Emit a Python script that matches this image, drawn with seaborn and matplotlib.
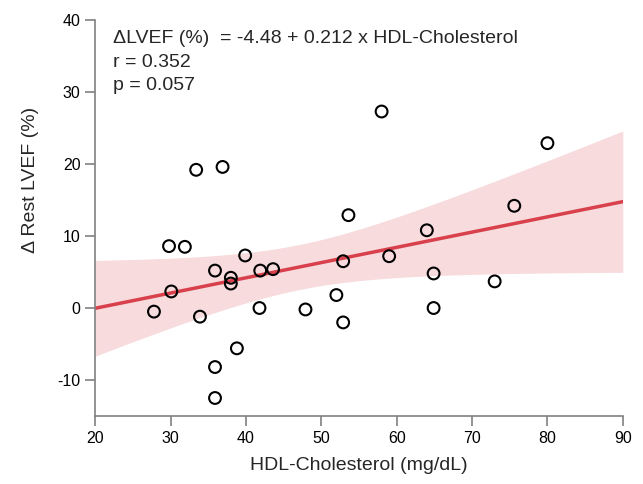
import matplotlib
matplotlib.use("Agg")
from matplotlib import pyplot as plt
import numpy as np
import pandas as pd
import seaborn as sns

# values
hdl = [33.4, 36.9, 29.8, 31.9, 39.9, 35.9, 38.0, 38.0, 41.9, 43.6,
       30.1, 27.8, 33.9, 41.8, 38.8, 35.9, 35.9, 58.0, 53.6, 52.9,
       59.0, 64.0, 64.9, 64.9, 52.0, 52.9, 47.9, 80.0, 75.6, 73.0]
delta_lvef = [19.2, 19.6, 8.6, 8.5, 7.3, 5.2, 4.2, 3.4, 5.2, 5.4,
              2.3, -0.5, -1.2, 0.0, -5.6, -8.2, -12.5, 27.3, 12.9, 6.5,
              7.2, 10.8, 4.8, 0.0, 1.8, -2.0, -0.2, 22.9, 14.2, 3.7]
x_ticks = [20, 30, 40, 50, 60, 70, 80, 90]
y_ticks = [-10, 0, 10, 20, 30, 40]
stats_lines = ["\u0394LVEF (%)  = -4.48 + 0.212 x HDL-Cholesterol",
               "r = 0.352",
               "p = 0.057"]

df = pd.DataFrame({"hdl": hdl, "dlvef": delta_lvef})

sns.set_style("ticks")
plt.rcParams["font.family"] = ["Liberation Sans", "DejaVu Sans"]
plt.rcParams["axes.unicode_minus"] = False

fig = plt.figure(figsize=(6.43, 4.84), dpi=100)
ax = fig.add_axes([0.148, 0.1405, 0.8206, 0.818])
ax.set_xlim(20, 90)
ax.set_ylim(-15, 40)

red = "#d8404c"

# analytic 95% confidence band of the fitted line
xs = np.linspace(20, 90, 200)
x_arr = np.array(hdl)
y_arr = np.array(delta_lvef)
n = len(x_arr)
slope, icpt = np.polyfit(x_arr, y_arr, 1)
resid = y_arr - (icpt + slope * x_arr)
s = np.sqrt(np.sum(resid ** 2) / (n - 2))
sxx = np.sum((x_arr - x_arr.mean()) ** 2)
se = s * np.sqrt(1 / n + (xs - x_arr.mean()) ** 2 / sxx)
t_crit = 2.048  # t(0.975, df=28)
fit = icpt + slope * xs
ax.fill_between(xs, fit - t_crit * se, fit + t_crit * se, color=red,
                alpha=0.19, linewidth=0)

sns.regplot(data=df, x="hdl", y="dlvef", ax=ax, scatter=False, truncate=False,
            ci=None, color=red, line_kws={"linewidth": 2.5})

sns.scatterplot(data=df, x="hdl", y="dlvef", ax=ax, s=72, facecolor="none",
                edgecolor="black", linewidth=1.5, zorder=5)

ax.set_xlim(20, 90)
ax.set_ylim(-15, 40)
ax.set_xticks(x_ticks)
ax.set_yticks(y_ticks)
ax.tick_params(axis="both", labelsize=11.5, color="#808080", length=7, width=1.2,
               labelcolor="black")
for side in ["left", "bottom"]:
    ax.spines[side].set_color("#808080")
    ax.spines[side].set_linewidth(1.2)
sns.despine(ax=ax)

ax.set_xlabel("HDL-Cholesterol (mg/dL)", fontsize=14, labelpad=8)
ax.set_ylabel("\u0394 Rest LVEF (%)", fontsize=14)
ax.yaxis.set_label_coords(-0.107, 0.596)

for i, line in enumerate(stats_lines):
    ax.text(0.0335, 0.941 - i * 0.0592, line, transform=ax.transAxes,
            fontsize=14, va="baseline", ha="left")

fig.savefig("out.png", dpi=100)
